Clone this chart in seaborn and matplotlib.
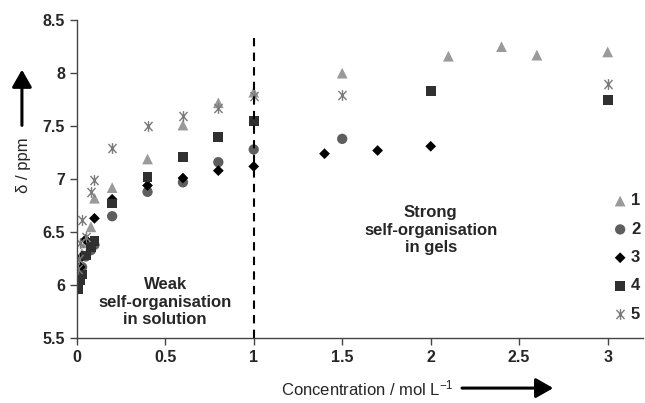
import numpy as np
import pandas as pd
import matplotlib
matplotlib.use("Agg")
import matplotlib.pyplot as plt
import seaborn as sns
from matplotlib.path import Path

# ---- data ----
series_names = ["1", "2", "3", "4", "5"]
s1_x = [0.005, 0.01, 0.02, 0.03, 0.05, 0.08, 0.1, 0.2, 0.4, 0.6, 0.8, 1.0, 1.5, 2.1, 2.4, 2.6, 3.0]
s1_y = [6.05, 6.12, 6.2, 6.3, 6.4, 6.55, 6.82, 6.92, 7.19, 7.51, 7.72, 7.82, 8.0, 8.16, 8.25, 8.17, 8.20]
s2_x = [0.005, 0.01, 0.02, 0.03, 0.05, 0.08, 0.1, 0.2, 0.4, 0.6, 0.8, 1.0, 1.5]
s2_y = [5.98, 6.03, 6.1, 6.17, 6.27, 6.33, 6.38, 6.65, 6.88, 6.97, 7.16, 7.28, 7.38]
s3_x = [0.005, 0.01, 0.02, 0.03, 0.05, 0.1, 0.2, 0.4, 0.6, 0.8, 1.0, 1.4, 1.7, 2.0]
s3_y = [6.02, 6.08, 6.17, 6.27, 6.43, 6.63, 6.81, 6.94, 7.01, 7.08, 7.12, 7.24, 7.27, 7.31]
s4_x = [0.005, 0.01, 0.02, 0.03, 0.05, 0.08, 0.1, 0.2, 0.4, 0.6, 0.8, 1.0, 2.0, 3.0]
s4_y = [5.96, 6.0, 6.05, 6.1, 6.28, 6.36, 6.42, 6.77, 7.02, 7.21, 7.40, 7.55, 7.83, 7.75]
s5_x = [0.005, 0.01, 0.02, 0.03, 0.05, 0.08, 0.1, 0.2, 0.4, 0.6, 0.8, 1.0, 1.5, 3.0]
s5_y = [6.15, 6.25, 6.4, 6.61, 6.45, 6.88, 6.99, 7.29, 7.5, 7.6, 7.67, 7.78, 7.79, 7.9]
x_ticks = [0, 0.5, 1, 1.5, 2, 2.5, 3]
x_tick_labels = ["0", "0.5", "1", "1.5", "2", "2.5", "3"]
y_ticks = [5.5, 6, 6.5, 7, 7.5, 8, 8.5]
y_tick_labels = ["5.5", "6", "6.5", "7", "7.5", "8", "8.5"]
divider_x = 1.0
text_weak = "Weak\nself-organisation\nin solution"
text_strong = "Strong\nself-organisation\nin gels"

# ---- style ----
sns.set_style("ticks")
plt.rcParams["font.family"] = ["Liberation Sans", "DejaVu Sans"]
plt.rcParams["mathtext.fontset"] = "custom"
plt.rcParams["mathtext.rm"] = "Liberation Sans"
plt.rcParams["mathtext.it"] = "Liberation Sans:italic"

star = Path([(0, -1), (0, 1), (-0.75, -0.85), (0.75, 0.85), (-0.75, 0.85), (0.75, -0.85)],
            [Path.MOVETO, Path.LINETO, Path.MOVETO, Path.LINETO, Path.MOVETO, Path.LINETO])

styles = {
    "1": dict(marker="^", color="#9a9a9a", s=60, edgecolor="none", linewidth=0),
    "2": dict(marker="o", color="#5e5e5e", s=55, edgecolor="none", linewidth=0),
    "3": dict(marker="D", color="#000000", s=30, edgecolor="none", linewidth=0),
    "4": dict(marker="s", color="#303030", s=50, edgecolor="none", linewidth=0),
    "5": dict(marker=star, color="#7a7a7a", s=60, edgecolor="#7a7a7a", linewidth=1.0),
}

xs = [s1_x, s2_x, s3_x, s4_x, s5_x]
ys = [s1_y, s2_y, s3_y, s4_y, s5_y]

fig = plt.figure(figsize=(6.45, 4.03), dpi=100)
ax = fig.add_axes([0.119, 0.161, 0.878, 0.789])

for name, x, y in zip(series_names, xs, ys):
    df = pd.DataFrame({"x": x, "y": y})
    st = styles[name]
    sns.scatterplot(data=df, x="x", y="y", marker=st["marker"], color=st["color"], s=st["s"],
                    edgecolor=st["edgecolor"], linewidth=st["linewidth"], label=name, ax=ax)

ax.plot([divider_x, divider_x], [5.5, 8.38], color="black", linestyle=(0, (4, 3)), linewidth=1.5, zorder=1)

ax.set_xlim(0, 3.2)
ax.set_ylim(5.5, 8.5)
ax.set_xticks(x_ticks)
ax.set_xticklabels(x_tick_labels, fontsize=11.5, fontweight="bold")
ax.set_yticks(y_ticks)
ax.set_yticklabels(y_tick_labels, fontsize=11.5, fontweight="bold")
ax.tick_params(direction="out", length=5, width=1, color="#444444")
ax.set_xlabel("")
ax.set_ylabel("")
sns.despine(ax=ax)
for sp in ["left", "bottom"]:
    ax.spines[sp].set_color("#444444")
    ax.spines[sp].set_linewidth(1)

ax.text(0.5, 5.84, text_weak, ha="center", va="center", fontsize=12, fontweight="bold",
        linespacing=1.2)
ax.text(2.0, 6.52, text_strong, ha="center", va="center", fontsize=12, fontweight="bold",
        linespacing=1.2)

leg = ax.legend(loc="upper right", bbox_to_anchor=(0.995, 0.455), frameon=False,
                prop={"weight": "bold", "size": 12}, labelspacing=0.8,
                handlelength=0.8, handletextpad=0.25, borderaxespad=0, borderpad=0)

fig.text(0.570, 0.037, "Concentration / mol L$^{-1}$", ha="center", va="center", fontsize=12)
fig.text(0.036, 0.59, "δ / ppm", ha="center", va="center", rotation=90, fontsize=12)
fig.patches.append(matplotlib.patches.FancyArrowPatch(
    (0.712, 0.037), (0.862, 0.037), transform=fig.transFigure, arrowstyle="-|>,head_length=7,head_width=4",
    color="black", linewidth=2.2, mutation_scale=1.5))
fig.patches.append(matplotlib.patches.FancyArrowPatch(
    (0.034, 0.682), (0.034, 0.834), transform=fig.transFigure, arrowstyle="-|>,head_length=7,head_width=4",
    color="black", linewidth=2.2, mutation_scale=1.5))

fig.savefig("out.png", dpi=100)
